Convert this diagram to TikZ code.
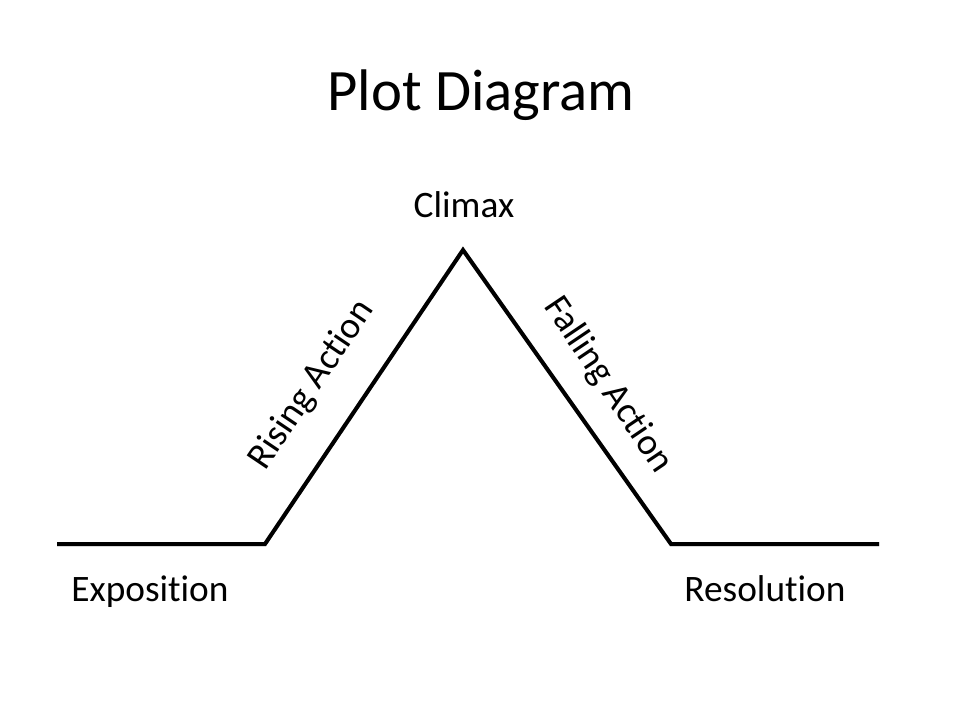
\documentclass[tikz,border=0pt]{standalone}
\usepackage{fontspec}
\setmainfont[Ligatures=NoCommon]{Carlito}
\usepackage{tikz}

\begin{document}
\begin{tikzpicture}[x=0.75pt, y=-0.75pt]
    \useasboundingbox[fill=white] (0,0) rectangle (960,720);
    \node[font=\fontsize{44}{52}\selectfont] (titolo) at (481,95) {Plot Diagram};
    % Punti della trama
    \coordinate (inizio) at (57,544);
    \coordinate (salita) at (265,544);
    \coordinate (climax) at (463,250);
    \coordinate (discesa) at (671,544);
    \coordinate (fine) at (879,544);
    % Ombra della linea
    \draw[line width=3pt, black!25, line join=miter, xshift=1.5pt, yshift=-1.5pt] (inizio) -- (salita) -- (climax) -- (discesa) -- (fine);
    % Linea della trama
    \draw[line width=3pt, line join=miter] (inizio) -- (salita) -- (climax) -- (discesa) -- (fine);
    % Etichette
    \node[font=\fontsize{28}{32}\selectfont, anchor=base] (cima) at (464,218) {Climax};
    \node[font=\fontsize{28}{32}\selectfont, anchor=base] (espo) at (150,601) {Exposition};
    \node[font=\fontsize{28}{32}\selectfont, anchor=base] (riso) at (765,601) {Resolution};
    \node[font=\fontsize{28}{32}\selectfont, rotate=56] (sale) at (312,385) {Rising Action};
    \node[font=\fontsize{28}{32}\selectfont, rotate=-56] (scende) at (608,385) {Falling Action};
\end{tikzpicture}
\end{document}
